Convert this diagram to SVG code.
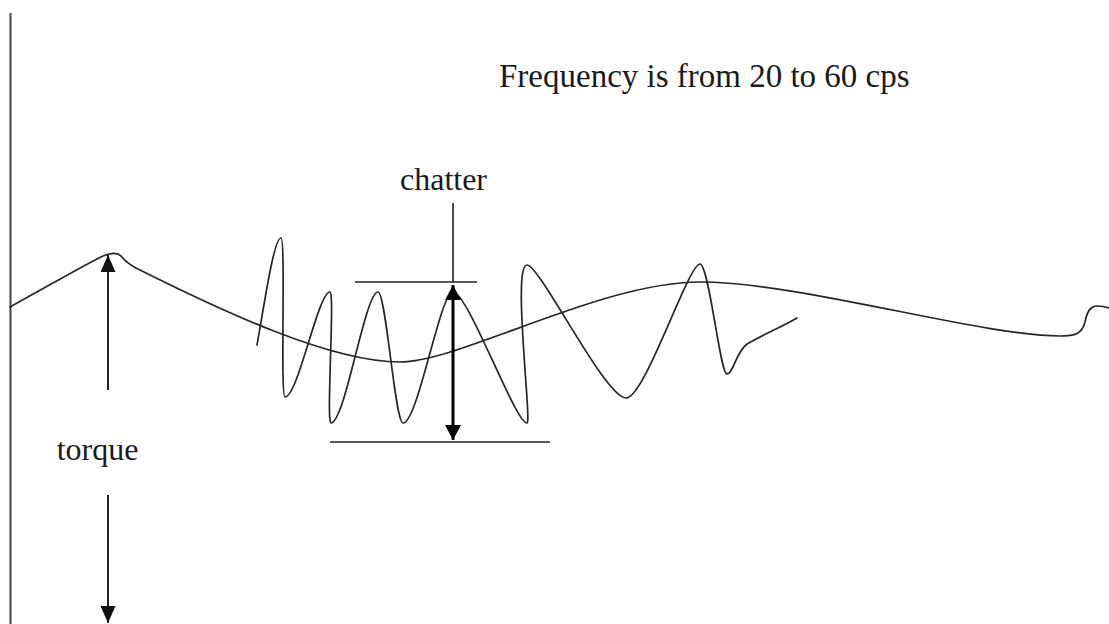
<svg xmlns="http://www.w3.org/2000/svg" width="1109" height="624" viewBox="0 0 1109 624">
<style>
.t{font-family:"Liberation Serif","Times New Roman",serif;fill:#1a1a1a}
.c{fill:none;stroke:#262626;stroke-width:1.7;stroke-linejoin:round;stroke-linecap:round}
.l{fill:none;stroke:#222;stroke-width:1.6}
</style>
<defs>
<marker id="ah" markerUnits="userSpaceOnUse" markerWidth="17" markerHeight="15" refX="17" refY="7.5" orient="auto-start-reverse" viewBox="0 0 17 15">
<path d="M0,0 L17,7.5 L0,15 z" fill="#111"/>
</marker>
<marker id="ah2" markerUnits="userSpaceOnUse" markerWidth="15" markerHeight="16" refX="15" refY="8" orient="auto-start-reverse" viewBox="0 0 15 16">
<path d="M0,0 L15,8 L0,16 z" fill="#000"/>
</marker>
</defs>
<rect width="1109" height="624" fill="#fff"/>
<g id="axis">
<line x1="10.5" y1="13" x2="10.5" y2="624" stroke="#444" stroke-width="2"/>
</g>
<g id="torque-curve">
<path class="c" d="M10 307 C50 285,88 263,103 256 C110 253,117 252,121 256 C125 261,129 265,140 270 C220 310,330 362,400 362 C460 362,600 282,700 282 C800 282,980 336,1060 336 C1075 336,1082 334,1085 322 C1087 312,1090 306,1097 306 C1102 306,1106 307,1109 308"/>
</g>
<g id="chatter-wave">
<path class="c" d="M257 345 C265 300,274 238,281 238 C286 238,280 397,285 397 C298 397,318 292,330 292 C335 292,326 423,331 423 C345 423,365 292,378 292 C386 292,395 423,403 423 C418 423,440 292,453 292 C468 292,515 423,527 423 C532 423,512 265,527 265 C540 265,605 398,626 398 C645 398,688 264,700 264 C709 264,720 374,727 374 C733 374,736 352,747 344 C760 336,780 328,797 318"/>
</g>
<g id="connectors">
<line class="l" x1="453" y1="203" x2="453" y2="282"/>
<line class="l" x1="355" y1="282" x2="477" y2="282"/>
<line class="l" x1="330" y1="442" x2="550" y2="442"/>
<line x1="453" y1="285" x2="453" y2="440" stroke="#000" stroke-width="3" marker-start="url(#ah2)" marker-end="url(#ah2)"/>
<line x1="108" y1="390" x2="108" y2="255" stroke="#222" stroke-width="2" marker-end="url(#ah)"/>
<line x1="108" y1="495" x2="108" y2="623" stroke="#222" stroke-width="2" marker-end="url(#ah)"/>
</g>
<g id="label-frequency">
<text class="t" x="499" y="87" font-size="33">Frequency is from 20 to 60 cps</text>
</g>
<g id="label-chatter">
<text class="t" x="443.5" y="190" font-size="32" text-anchor="middle">chatter</text>
</g>
<g id="label-torque">
<text class="t" x="97.5" y="460" font-size="32" text-anchor="middle">torque</text>
</g>
</svg>
